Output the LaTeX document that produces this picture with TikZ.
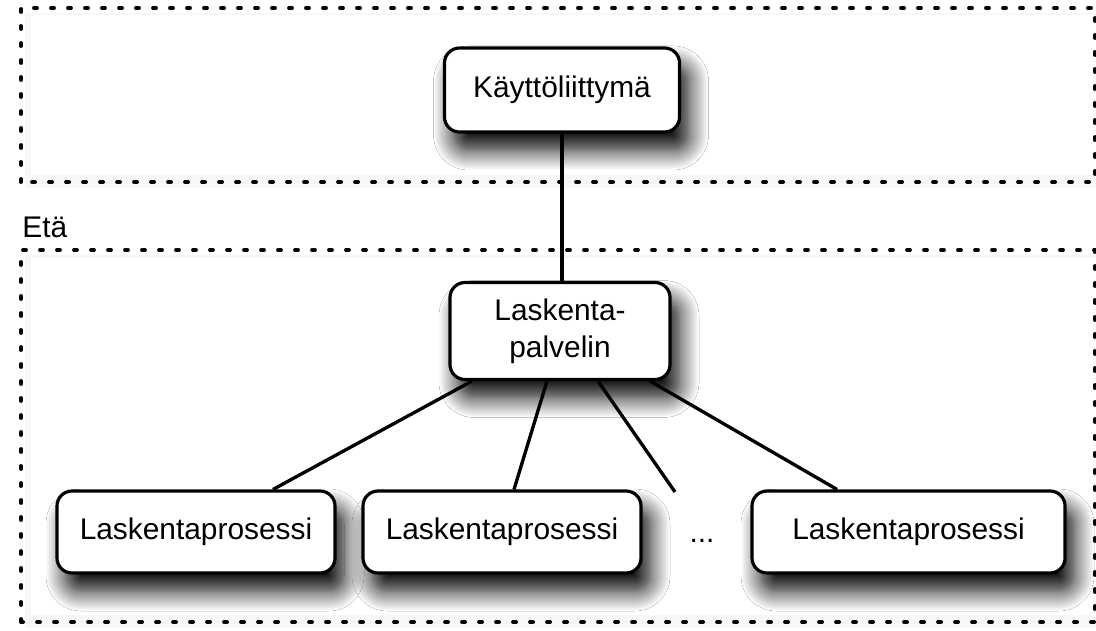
\documentclass[tikz,border=0pt]{standalone}
\usepackage{fontspec}
\setmainfont{Liberation Sans}
\usepackage{tikz}
\usetikzlibrary{shadows.blur}
\tikzset{
	box/.style={draw,rounded corners=0.3cm,line width=1.8pt,fill=white,
		minimum height=1.64cm,align=center,font=\fontsize{17pt}{21pt}\selectfont,
		blur shadow={shadow xshift=0.18cm,shadow yshift=-0.36cm,shadow blur radius=0.4cm,shadow blur steps=14,shadow opacity=100}},
	frame/.style={line width=2.2pt,line cap=round,dash pattern=on 0.06cm off 0.28cm},
	link/.style={line width=1.9pt}
}

\begin{document}
\begin{tikzpicture}
	\useasboundingbox (0,0) rectangle (21.92,12.6);
	\fill[black!3] (0.5,8.85) rectangle (21.92,12.35);
	\fill[black!3] (0.5,0.05) rectangle (21.92,7.5);
	\fill[white] (0.62,9.1) rectangle (21.92,12.3);
	\fill[white] (0.62,0.3) rectangle (21.92,7.45);
	\draw[frame] (0.42,8.96) rectangle (21.9,12.44);
	\draw[frame] (0.42,0.16) rectangle (21.9,7.6);
	\node[anchor=base west,inner sep=0,font=\fontsize{17pt}{21pt}\selectfont] (eta) at (0.44,7.86) {Etä};
	%
	\node[box,minimum width=4.7cm,minimum height=1.68cm] (kaytto) at (11.24,10.8) {Käyttöliittymä};
	\node[box,minimum width=4.4cm,minimum height=1.94cm] (palvelin) at (11.2,5.98) {Laskenta-\\palvelin};
	\node[box,minimum width=5.56cm] (prosessi1) at (3.92,1.96) {Laskentaprosessi};
	\node[box,minimum width=5.56cm] (prosessi2) at (10.04,1.96) {Laskentaprosessi};
	\node[box,minimum width=6.26cm] (prosessi3) at (18.17,1.96) {Laskentaprosessi};
	\node[font=\fontsize{17pt}{21pt}\selectfont,anchor=base] (dots) at (14.04,1.76) {...};
	\coordinate (vapaa) at (13.5,2.76);
	%
	\draw[link] (kaytto) -- (kaytto |- palvelin.north);
	\draw[link] ([xshift=-1.76cm]palvelin.south) -- ([xshift=1.54cm]prosessi1.north);
	\draw[link] ([xshift=-0.26cm]palvelin.south) -- ([xshift=0.24cm]prosessi2.north);
	\draw[link] ([xshift=0.76cm]palvelin.south) -- (vapaa);
	\draw[link] ([xshift=1.8cm]palvelin.south) -- ([xshift=-1.43cm]prosessi3.north);
\end{tikzpicture}
\end{document}
